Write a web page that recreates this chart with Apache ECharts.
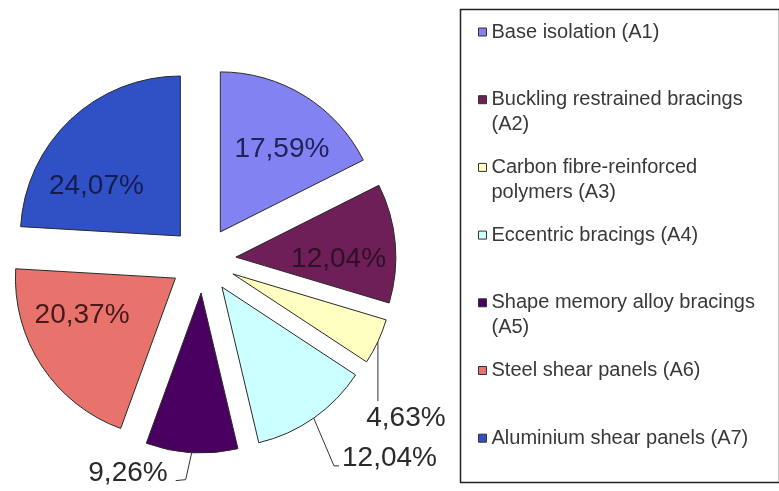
<!DOCTYPE html>
<html>
<head>
<meta charset="utf-8">
<script src="https://cdn.jsdelivr.net/npm/echarts@6/dist/echarts.min.js"></script>
<style>
  html, body { margin: 0; padding: 0; background: #ffffff; }
  #chart { width: 779px; height: 491px; }
</style>
</head>
<body>
<div id="chart"></div>
<script>
// Share of each passive control system (percent)
const categories = [
  'Base isolation (A1)',
  'Buckling restrained bracings (A2)',
  'Carbon fibre-reinforced polymers (A3)',
  'Eccentric bracings (A4)',
  'Shape memory alloy bracings (A5)',
  'Steel shear panels (A6)',
  'Aluminium shear panels (A7)'
];
const legendLines = [
  ['Base isolation (A1)', ''],
  ['Buckling restrained bracings', '(A2)'],
  ['Carbon fibre-reinforced', 'polymers (A3)'],
  ['Eccentric bracings (A4)', ''],
  ['Shape memory alloy bracings', '(A5)'],
  ['Steel shear panels (A6)', ''],
  ['Aluminium shear panels (A7)', '']
];
const shares = [17.59, 12.04, 4.63, 12.04, 9.26, 20.37, 24.07];
const sliceColors = ['#8282F2', '#6E1F57', '#FFFFC2', '#CCFFFF', '#4A0060', '#E8736C', '#3050C6'];
const labelColors = ['#22225a', '#2e1028', '#2a2a2a', '#2a2a2a', '#2a2a2a', '#4a1818', '#151c50'];
const labelInside = [true, true, false, false, false, true, true];
// label nudges (px) relative to the library's default label placement
const labelNudge = [[18, -12], [20, 9], [-39, 69], [7, 25], [-12, 3], [-24, -8], [-27, 11]];
// how each leader line reaches its label: straight down, or down with a short hook
const leaderShape = [null, null, 'down', 'hookRight', 'hookLeft', null, null];

const fmt = v => v.toFixed(2).replace('.', ',') + '%';

const data = shares.map((v, i) => ({
  name: categories[i],
  value: v,
  selected: true,
  itemStyle: { color: sliceColors[i] },
  label: { position: labelInside[i] ? 'inside' : 'outside', color: labelColors[i] },
  labelLine: { show: !labelInside[i] }
}));

const chart = echarts.init(document.getElementById('chart'), null, { renderer: 'canvas' });

const legends = categories.map((name, i) => ({
  data: [name],
  orient: 'vertical',
  left: 473,
  top: -8 + i * 67.7,
  itemWidth: 8,
  itemHeight: 8,
  itemGap: 0,
  icon: 'rect',
  selectedMode: false,
  itemStyle: { borderColor: '#333333', borderWidth: 1 },
  formatter: () => '{t| }\n{t|' + legendLines[i][0] + '}\n{t|' + (legendLines[i][1] || ' ') + '}',
  textStyle: {
    rich: { t: { fontFamily: 'Liberation Sans, Arial, sans-serif', fontSize: 20, lineHeight: 25, color: '#383838' } }
  }
}));

function placeLabel(p) {
  const i = p.dataIndex;
  const dx = labelNudge[i][0], dy = labelNudge[i][1];
  const out = { dx: dx, dy: dy };
  const shape = leaderShape[i];
  if (shape && p.labelLinePoints) {
    const r = p.labelRect;
    const left = r.x + dx, right = r.x + r.width + dx;
    const top = r.y + dy, bottom = r.y + r.height + dy;
    const s = p.labelLinePoints[0];
    if (shape === 'down') {
      const e = [s[0], top - 3];
      out.labelLinePoints = [s, e, e];
    } else if (shape === 'hookRight') {
      const yb = bottom - 6;
      out.labelLinePoints = [s, [left - 8, yb], [left - 3, yb]];
    } else {
      const yb = bottom - 8;
      out.labelLinePoints = [s, [right + 18, yb], [right + 8, yb + 1]];
    }
  }
  return out;
}

chart.setOption({
  animation: false,
  backgroundColor: '#ffffff',
  graphic: [{
    type: 'rect',
    left: 458,
    top: 7,
    shape: { width: 319, height: 473 },
    style: { fill: 'none', stroke: '#222222', lineWidth: 1.5 }
  }],
  legend: legends,
  series: [{
    type: 'pie',
    center: [203, 260],
    radius: 160,
    startAngle: 90,
    clockwise: true,
    selectedMode: 'multiple',
    selectedOffset: 33,
    avoidLabelOverlap: false,
    itemStyle: { borderColor: '#2a2a2a', borderWidth: 1 },
    select: { itemStyle: { borderColor: '#2a2a2a', borderWidth: 1 } },
    emphasis: { disabled: true },
    label: {
      formatter: p => fmt(p.value),
      fontFamily: 'Liberation Sans, Arial, sans-serif',
      fontSize: 28
    },
    labelLine: {
      length: 18,
      length2: 6,
      smooth: false,
      lineStyle: { color: '#333333', width: 1 }
    },
    labelLayout: placeLabel,
    data: data
  }]
});
</script>
</body>
</html>
